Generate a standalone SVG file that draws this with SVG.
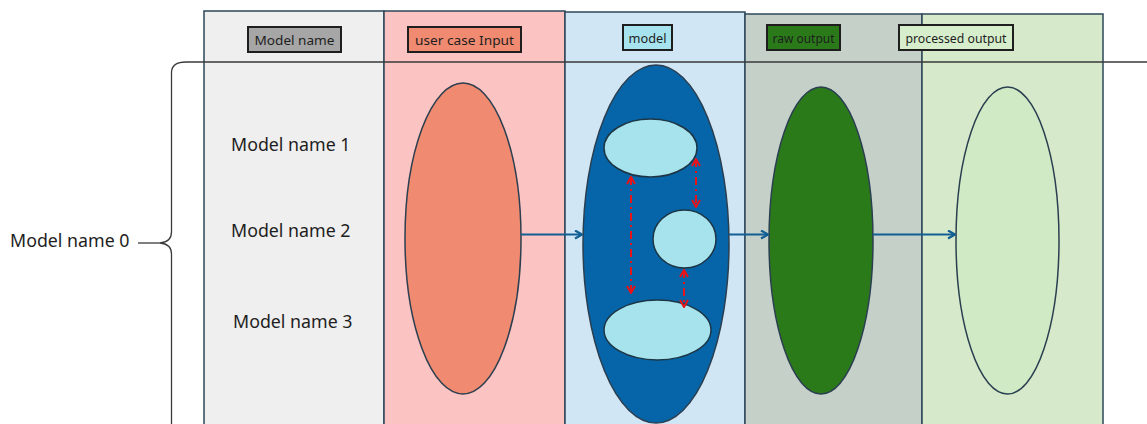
<svg xmlns="http://www.w3.org/2000/svg" width="1147" height="424" viewBox="0 0 1147 424">
  <defs>
    <style>
      .col { stroke: #2e475a; stroke-width: 1.5; }
      .tag { stroke: #1e1e1e; stroke-width: 2; }
      .tagtxt { font-family: "Noto Sans", "Liberation Sans", sans-serif; font-size: 13.2px; fill: #1e1e1e; text-anchor: middle; }
      .row { font-family: "Noto Sans", "Liberation Sans", sans-serif; font-size: 17.8px; fill: #1e1e1e; }
      .shape { stroke: #2b3f50; stroke-width: 1.5; }
      .inner { fill: #a6e3ec; stroke: #1d3646; stroke-width: 1.5; }
      .flow { stroke: #125f93; stroke-width: 2; fill: none; marker-end: url(#chev); }
      .link { stroke: #e8141a; stroke-width: 2; fill: none; stroke-dasharray: 8 4 2 4; marker-start: url(#redStart); marker-end: url(#redEnd); }
    </style>
    <marker id="chev" viewBox="0 0 10 10" refX="9" refY="5" markerWidth="10" markerHeight="10" markerUnits="userSpaceOnUse" orient="auto">
      <path d="M2,1 L9,5 L2,9" fill="none" stroke="#125f93" stroke-width="2.2"/>
    </marker>
    <marker id="redEnd" viewBox="0 0 10 10" refX="9" refY="5" markerWidth="10" markerHeight="10" markerUnits="userSpaceOnUse" orient="auto">
      <path d="M2,1 L9,5 L2,9" fill="none" stroke="#e8141a" stroke-width="2"/>
    </marker>
    <marker id="redStart" viewBox="0 0 10 10" refX="1" refY="5" markerWidth="10" markerHeight="10" markerUnits="userSpaceOnUse" orient="auto">
      <path d="M8,1 L1,5 L8,9" fill="none" stroke="#e8141a" stroke-width="2"/>
    </marker>
  </defs>

  <rect width="1147" height="424" fill="#ffffff"/>

  <!-- swimlane columns -->
  <g id="lanes">
    <rect class="col" x="204" y="11" width="180" height="420" fill="#efefef"/>
    <rect class="col" x="384" y="11" width="181" height="420" fill="#fbc3c1"/>
    <rect class="col" x="565" y="12" width="180" height="420" fill="#d0e6f4"/>
    <rect class="col" x="745" y="14" width="177" height="420" fill="#c4d0c8"/>
    <rect class="col" x="922" y="14" width="181" height="420" fill="#d6eacb"/>
  </g>

  <!-- header divider and grouping brace -->
  <g id="brace" fill="none" stroke="#3a3a3a" stroke-width="1.3">
    <path d="M1147,62 L186,62 Q172,62 171.5,72 L171.5,232 Q171.5,242 160,243 Q171.5,244 171.5,254 L171.5,424"/>
    <path d="M138,243 L160,243"/>
  </g>

  <!-- column header tags -->
  <g id="tag-model-name">
    <rect class="tag" x="248" y="27" width="93" height="25" fill="#a6a6a6"/>
    <text class="tagtxt" x="294.5" y="44.5" textLength="80" lengthAdjust="spacingAndGlyphs">Model name</text>
  </g>
  <g id="tag-input">
    <rect class="tag" x="408" y="27" width="113" height="25" fill="#f08a70"/>
    <text class="tagtxt" x="464.5" y="44.5" textLength="99" lengthAdjust="spacingAndGlyphs">user case Input</text>
  </g>
  <g id="tag-model">
    <rect class="tag" x="623" y="25" width="49" height="25" fill="#a7e3ee"/>
    <text class="tagtxt" x="647.5" y="42.5" textLength="38" lengthAdjust="spacingAndGlyphs">model</text>
  </g>
  <g id="tag-raw">
    <rect class="tag" x="767" y="25" width="73" height="25" fill="#2a7a1a"/>
    <text class="tagtxt" x="803.5" y="42.5" textLength="62" lengthAdjust="spacingAndGlyphs">raw output</text>
  </g>
  <g id="tag-processed">
    <rect class="tag" x="899" y="25" width="114" height="25" fill="#d6eecb"/>
    <text class="tagtxt" x="956" y="42.5" textLength="101" lengthAdjust="spacingAndGlyphs">processed output</text>
  </g>

  <!-- row labels -->
  <g id="labels">
    <text class="row" x="10" y="247">Model name 0</text>
    <text class="row" x="231" y="151">Model name 1</text>
    <text class="row" x="231" y="237">Model name 2</text>
    <text class="row" x="233" y="328">Model name 3</text>
  </g>

  <!-- lane contents -->
  <g id="input">
    <ellipse class="shape" cx="463" cy="238.5" rx="58" ry="155.5" fill="#f08a70"/>
  </g>
  <g id="model">
    <ellipse class="shape" cx="656" cy="244" rx="73" ry="179" fill="#0565a8"/>
    <ellipse class="inner" cx="650.5" cy="148" rx="46.5" ry="29"/>
    <ellipse class="inner" cx="684.5" cy="239" rx="31.5" ry="29"/>
    <ellipse class="inner" cx="657.5" cy="330" rx="53.5" ry="30"/>
  </g>
  <g id="raw">
    <ellipse class="shape" cx="821" cy="240.5" rx="52" ry="153.5" fill="#2a7a1a"/>
  </g>
  <g id="processed">
    <ellipse class="shape" cx="1007.5" cy="240.5" rx="51.5" ry="153.5" fill="#d1eac6"/>
  </g>

  <!-- connectors -->
  <g id="connectors">
    <path class="flow" d="M521,234.5 L582,234.5"/>
    <path class="flow" d="M729,234.5 L768,234.5"/>
    <path class="flow" d="M873,234.5 L955,234.5"/>
    <path class="link" d="M631,177 L631,293"/>
    <path class="link" d="M696,159 L696,207"/>
    <path class="link" d="M684,270 L684,307"/>
  </g>
</svg>
